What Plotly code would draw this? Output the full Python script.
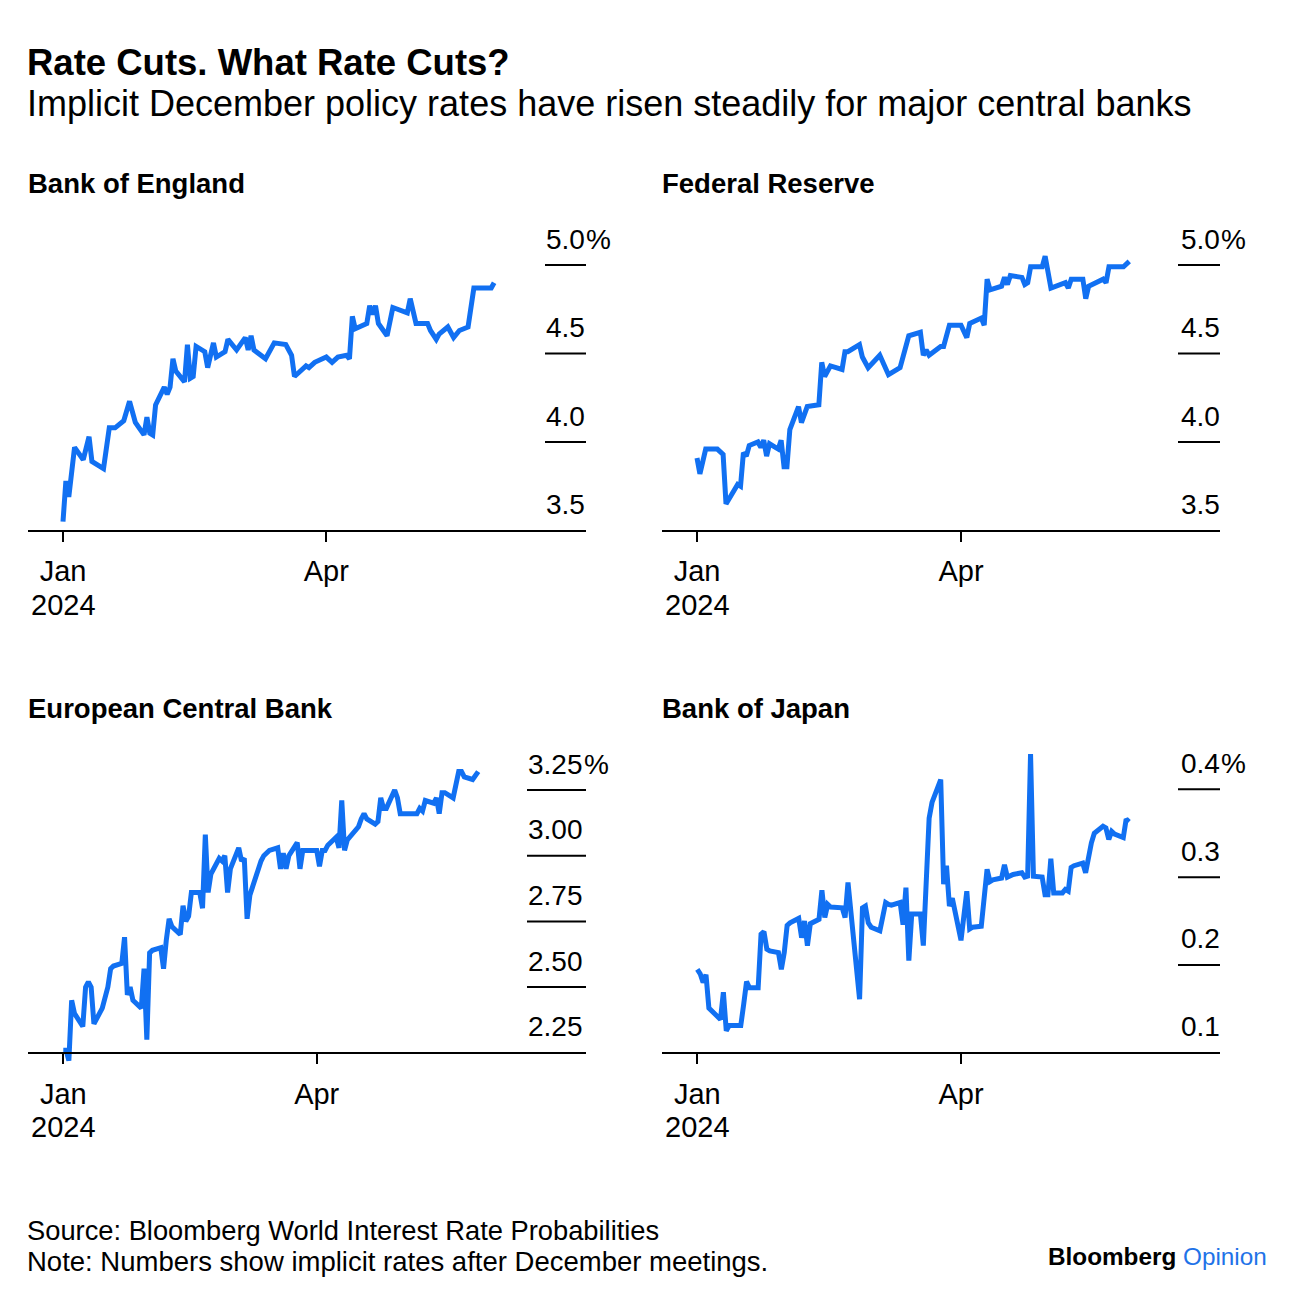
import plotly.graph_objects as go
from datetime import datetime, timedelta

W, H = 1296, 1300
FONT = "Liberation Sans, Arial, Helvetica, sans-serif"
BLUE = "#1170F2"

# ---------------- data ----------------
boe_dates = ["2024-01-01", "2024-01-02", "2024-01-03", "2024-01-05", "2024-01-08", "2024-01-10",
             "2024-01-11", "2024-01-15", "2024-01-17", "2024-01-19", "2024-01-22", "2024-01-24",
             "2024-01-26", "2024-01-29", "2024-01-30", "2024-01-31", "2024-02-01", "2024-02-02",
             "2024-02-05", "2024-02-06", "2024-02-07", "2024-02-08", "2024-02-09", "2024-02-12",
             "2024-02-13", "2024-02-14", "2024-02-15", "2024-02-16", "2024-02-19", "2024-02-20",
             "2024-02-22", "2024-02-23", "2024-02-26", "2024-02-27", "2024-03-01", "2024-03-04",
             "2024-03-05", "2024-03-06", "2024-03-07", "2024-03-11", "2024-03-14", "2024-03-18",
             "2024-03-20", "2024-03-21", "2024-03-25", "2024-03-26", "2024-03-28", "2024-04-01",
             "2024-04-03", "2024-04-05", "2024-04-08", "2024-04-09", "2024-04-10", "2024-04-11",
             "2024-04-15", "2024-04-16", "2024-04-17", "2024-04-18", "2024-04-19", "2024-04-22",
             "2024-04-24", "2024-04-26", "2024-04-29", "2024-04-30", "2024-05-02", "2024-05-06",
             "2024-05-07", "2024-05-09", "2024-05-10", "2024-05-13", "2024-05-15", "2024-05-17",
             "2024-05-20", "2024-05-22", "2024-05-23", "2024-05-28", "2024-05-29"]
boe_values = [3.55, 3.78, 3.69, 3.97, 3.90, 4.03, 3.89, 3.85, 4.08, 4.08, 4.12, 4.23,
              4.11, 4.04, 4.14, 4.05, 4.04, 4.21, 4.31, 4.27, 4.31, 4.47, 4.40, 4.34,
              4.55, 4.36, 4.37, 4.54, 4.51, 4.42, 4.56, 4.48, 4.51, 4.58, 4.52, 4.59,
              4.52, 4.60, 4.52, 4.47, 4.56, 4.55, 4.49, 4.37, 4.43, 4.42, 4.45, 4.48,
              4.45, 4.48, 4.49, 4.47, 4.71, 4.64, 4.67, 4.77, 4.72, 4.77, 4.67, 4.60,
              4.76, 4.75, 4.73, 4.81, 4.67, 4.67, 4.63, 4.58, 4.61, 4.65, 4.59, 4.63,
              4.65, 4.87, 4.87, 4.87, 4.90]

fed_dates = ["2024-01-01", "2024-01-02", "2024-01-04", "2024-01-08", "2024-01-10", "2024-01-11",
             "2024-01-15", "2024-01-16", "2024-01-17", "2024-01-18", "2024-01-19", "2024-01-22",
             "2024-01-23", "2024-01-24", "2024-01-25", "2024-01-26", "2024-01-29", "2024-01-30",
             "2024-01-31", "2024-02-01", "2024-02-02", "2024-02-05", "2024-02-06", "2024-02-08",
             "2024-02-12", "2024-02-13", "2024-02-14", "2024-02-16", "2024-02-20", "2024-02-21",
             "2024-02-22", "2024-02-26", "2024-02-27", "2024-02-29", "2024-03-04", "2024-03-05",
             "2024-03-07", "2024-03-11", "2024-03-14", "2024-03-18", "2024-03-19", "2024-03-20",
             "2024-03-21", "2024-03-25", "2024-03-26", "2024-03-28", "2024-04-01", "2024-04-03",
             "2024-04-04", "2024-04-08", "2024-04-09", "2024-04-10", "2024-04-11", "2024-04-15",
             "2024-04-16", "2024-04-17", "2024-04-18", "2024-04-22", "2024-04-23", "2024-04-24",
             "2024-04-25", "2024-04-29", "2024-04-30", "2024-05-02", "2024-05-07", "2024-05-08",
             "2024-05-09", "2024-05-13", "2024-05-14", "2024-05-15", "2024-05-20", "2024-05-21",
             "2024-05-22", "2024-05-27", "2024-05-28", "2024-05-29"]
fed_values = [3.91, 3.82, 3.96, 3.96, 3.93, 3.65, 3.76, 3.75, 3.94, 3.92, 3.98, 4.00,
              3.97, 4.01, 3.92, 3.99, 3.96, 4.01, 3.86, 3.86, 4.07, 4.20, 4.11, 4.20,
              4.21, 4.45, 4.37, 4.43, 4.41, 4.51, 4.51, 4.55, 4.48, 4.42, 4.49, 4.45,
              4.38, 4.42, 4.60, 4.62, 4.49, 4.52, 4.49, 4.54, 4.54, 4.66, 4.66, 4.59,
              4.67, 4.70, 4.66, 4.92, 4.86, 4.88, 4.93, 4.89, 4.94, 4.93, 4.89, 4.90,
              4.99, 4.99, 5.05, 4.87, 4.90, 4.87, 4.92, 4.92, 4.81, 4.88, 4.92, 4.90,
              4.99, 4.99, 5.01, 5.02]

ecb_dates = ["2024-01-01", "2024-01-02", "2024-01-03", "2024-01-04", "2024-01-05", "2024-01-08",
             "2024-01-09", "2024-01-10", "2024-01-11", "2024-01-12", "2024-01-15", "2024-01-16",
             "2024-01-17", "2024-01-18", "2024-01-19", "2024-01-22", "2024-01-23", "2024-01-24",
             "2024-01-25", "2024-01-26", "2024-01-29", "2024-01-30", "2024-01-31", "2024-02-01",
             "2024-02-02", "2024-02-05", "2024-02-06", "2024-02-07", "2024-02-08", "2024-02-09",
             "2024-02-12", "2024-02-13", "2024-02-14", "2024-02-15", "2024-02-16", "2024-02-19",
             "2024-02-20", "2024-02-21", "2024-02-22", "2024-02-23", "2024-02-26", "2024-02-27",
             "2024-02-28", "2024-02-29", "2024-03-01", "2024-03-04", "2024-03-05", "2024-03-06",
             "2024-03-07", "2024-03-08", "2024-03-11", "2024-03-12", "2024-03-13", "2024-03-14",
             "2024-03-15", "2024-03-18", "2024-03-19", "2024-03-20", "2024-03-21", "2024-03-22",
             "2024-03-25", "2024-03-26", "2024-03-27", "2024-03-28", "2024-03-29", "2024-04-01",
             "2024-04-02", "2024-04-03", "2024-04-04", "2024-04-05", "2024-04-08", "2024-04-09",
             "2024-04-10", "2024-04-11", "2024-04-12", "2024-04-15", "2024-04-16", "2024-04-17",
             "2024-04-18", "2024-04-19", "2024-04-22", "2024-04-23", "2024-04-24", "2024-04-25",
             "2024-04-26", "2024-04-29", "2024-04-30", "2024-05-01", "2024-05-02", "2024-05-03",
             "2024-05-06", "2024-05-07", "2024-05-08", "2024-05-09", "2024-05-10", "2024-05-13",
             "2024-05-14", "2024-05-15", "2024-05-16", "2024-05-17", "2024-05-20", "2024-05-21",
             "2024-05-22", "2024-05-23", "2024-05-24", "2024-05-27", "2024-05-28", "2024-05-29"]
ecb_values = [2.26, 2.26, 2.22, 2.45, 2.40, 2.35, 2.50, 2.52, 2.50, 2.36, 2.42, 2.46,
              2.50, 2.57, 2.58, 2.59, 2.69, 2.47, 2.50, 2.45, 2.42, 2.57, 2.30, 2.63,
              2.64, 2.65, 2.57, 2.68, 2.76, 2.73, 2.70, 2.81, 2.75, 2.77, 2.86, 2.86,
              2.80, 3.08, 2.86, 2.93, 2.99, 2.98, 3.00, 2.86, 2.95, 3.03, 2.98, 2.99,
              2.76, 2.85, 2.95, 2.98, 3.00, 3.01, 3.02, 3.03, 2.95, 3.01, 2.95, 3.00,
              3.05, 2.95, 3.02, 3.02, 3.02, 3.02, 2.96, 3.02, 3.02, 3.04, 3.07, 3.03,
              3.21, 3.02, 3.06, 3.10, 3.11, 3.14, 3.16, 3.14, 3.12, 3.13, 3.22, 3.18,
              3.18, 3.25, 3.22, 3.16, 3.16, 3.16, 3.16, 3.16, 3.18, 3.17, 3.21, 3.20,
              3.22, 3.16, 3.24, 3.24, 3.22, 3.27, 3.32, 3.32, 3.30, 3.29, 3.31, 3.32]

boj_dates = ["2024-01-01", "2024-01-02", "2024-01-03", "2024-01-04", "2024-01-05", "2024-01-08",
             "2024-01-09", "2024-01-10", "2024-01-11", "2024-01-12", "2024-01-15", "2024-01-16",
             "2024-01-17", "2024-01-18", "2024-01-19", "2024-01-22", "2024-01-23", "2024-01-24",
             "2024-01-25", "2024-01-26", "2024-01-29", "2024-01-30", "2024-01-31", "2024-02-01",
             "2024-02-02", "2024-02-05", "2024-02-06", "2024-02-07", "2024-02-08", "2024-02-09",
             "2024-02-12", "2024-02-13", "2024-02-14", "2024-02-15", "2024-02-16", "2024-02-19",
             "2024-02-20", "2024-02-21", "2024-02-22", "2024-02-26", "2024-02-27", "2024-02-28",
             "2024-02-29", "2024-03-01", "2024-03-04", "2024-03-05", "2024-03-06", "2024-03-07",
             "2024-03-08", "2024-03-11", "2024-03-12", "2024-03-13", "2024-03-14", "2024-03-15",
             "2024-03-18", "2024-03-19", "2024-03-21", "2024-03-22", "2024-03-25", "2024-03-26",
             "2024-03-27", "2024-03-28", "2024-03-29", "2024-04-01", "2024-04-03", "2024-04-04",
             "2024-04-05", "2024-04-08", "2024-04-09", "2024-04-10", "2024-04-11", "2024-04-12",
             "2024-04-15", "2024-04-16", "2024-04-17", "2024-04-18", "2024-04-19", "2024-04-22",
             "2024-04-23", "2024-04-24", "2024-04-25", "2024-04-26", "2024-04-29", "2024-04-30",
             "2024-05-01", "2024-05-02", "2024-05-03", "2024-05-06", "2024-05-07", "2024-05-08",
             "2024-05-09", "2024-05-10", "2024-05-13", "2024-05-14", "2024-05-15", "2024-05-16",
             "2024-05-17", "2024-05-20", "2024-05-21", "2024-05-22", "2024-05-23", "2024-05-24",
             "2024-05-27", "2024-05-28", "2024-05-29"]
boj_values = [0.195, 0.190, 0.180, 0.189, 0.151, 0.142, 0.138, 0.169, 0.125, 0.131, 0.131, 0.131,
              0.155, 0.181, 0.174, 0.174, 0.235, 0.238, 0.218, 0.216, 0.214, 0.195, 0.214, 0.245,
              0.248, 0.253, 0.231, 0.250, 0.222, 0.247, 0.252, 0.285, 0.254, 0.269, 0.266, 0.265,
              0.265, 0.254, 0.294, 0.161, 0.265, 0.267, 0.248, 0.243, 0.239, 0.255, 0.271, 0.269,
              0.268, 0.271, 0.246, 0.288, 0.205, 0.258, 0.258, 0.222, 0.367, 0.385, 0.411, 0.292,
              0.313, 0.267, 0.276, 0.228, 0.284, 0.241, 0.243, 0.244, 0.275, 0.309, 0.295, 0.297,
              0.299, 0.314, 0.300, 0.302, 0.303, 0.305, 0.300, 0.301, 0.440, 0.301, 0.300, 0.280,
              0.280, 0.321, 0.282, 0.282, 0.286, 0.284, 0.311, 0.313, 0.316, 0.305, 0.324, 0.339,
              0.350, 0.358, 0.356, 0.343, 0.352, 0.349, 0.345, 0.366, 0.363]

boe_ticks = [3.5, 4.0, 4.5, 5.0]
boe_tick_labels = ["3.5", "4.0", "4.5", "5.0"]
fed_ticks = [3.5, 4.0, 4.5, 5.0]
fed_tick_labels = ["3.5", "4.0", "4.5", "5.0"]
ecb_ticks = [2.25, 2.50, 2.75, 3.00, 3.25]
ecb_tick_labels = ["2.25", "2.50", "2.75", "3.00", "3.25"]
boj_ticks = [0.1, 0.2, 0.3, 0.4]
boj_tick_labels = ["0.1", "0.2", "0.3", "0.4"]

x_tick_dates = ["2024-01-01", "2024-04-01"]
x_tick_text = ["Jan", "Apr"]
x_year_label = "2024"

titles = ["Bank of England", "Federal Reserve", "European Central Bank", "Bank of Japan"]

# ---------------- layout geometry (pixels) ----------------
panels = [
    dict(title=titles[0], dates=boe_dates, values=boe_values, ticks=boe_ticks, labels=boe_tick_labels,
         xl=28, xr=586, jan=63.0, apr=326.3, base=530.5, top_val=5.0, top_pix=265.0,
         dom=(225, 545), seg=545, lab=587, tx=26, ty=184),
    dict(title=titles[1], dates=fed_dates, values=fed_values, ticks=fed_ticks, labels=fed_tick_labels,
         xl=662, xr=1220, jan=697.0, apr=961.0, base=530.5, top_val=5.0, top_pix=265.0,
         dom=(225, 545), seg=1178, lab=1222, tx=660, ty=184),
    dict(title=titles[2], dates=ecb_dates, values=ecb_values, ticks=ecb_ticks, labels=ecb_tick_labels,
         xl=28, xr=586, jan=63.3, apr=316.7, base=1052.8, top_val=3.25, top_pix=790.0,
         dom=(740, 1066), seg=527, lab=585, tx=26, ty=708),
    dict(title=titles[3], dates=boj_dates, values=boj_values, ticks=boj_ticks, labels=boj_tick_labels,
         xl=662, xr=1220, jan=697.3, apr=961.0, base=1052.8, top_val=0.4, top_pix=789.3,
         dom=(740, 1066), seg=1178, lab=1222, tx=660, ty=708),
]

fig = go.Figure()
annotations = []
shapes = []
jan1 = datetime(2024, 1, 1)

for i, p in enumerate(panels, start=1):
    sfx = "" if i == 1 else str(i)
    base_val = p["ticks"][0]
    ppu = (p["base"] - p["top_pix"]) / (p["top_val"] - base_val)
    y0 = base_val - (p["dom"][1] - p["base"]) / ppu
    y1 = base_val + (p["base"] - p["dom"][0]) / ppu
    ppd = (p["apr"] - p["jan"]) / 91.0
    d0 = jan1 + timedelta(days=(p["xl"] - p["jan"]) / ppd)
    d1 = jan1 + timedelta(days=(p["xr"] - p["jan"]) / ppd)

    fig.add_trace(go.Scatter(x=p["dates"], y=p["values"], mode="lines",
                             line=dict(color=BLUE, width=5),
                             xaxis="x" + sfx, yaxis="y" + sfx, showlegend=False,
                             hoverinfo="skip"))

    fig.layout["xaxis" + sfx] = dict(
        domain=[p["xl"] / W, p["xr"] / W], anchor="free", position=1 - p["base"] / H,
        type="date", range=[d0.strftime("%Y-%m-%d %H:%M:%S"), d1.strftime("%Y-%m-%d %H:%M:%S")],
        tickmode="array", tickvals=x_tick_dates, ticktext=x_tick_text,
        ticks="outside", ticklen=10, tickwidth=2, tickcolor="#000",
        showline=True, linecolor="#000", linewidth=2,
        showgrid=False, zeroline=False, fixedrange=True,
        tickfont=dict(family=FONT, size=29, color="#000"), ticklabelstandoff=5,
    )
    fig.layout["yaxis" + sfx] = dict(
        domain=[1 - p["dom"][1] / H, 1 - p["dom"][0] / H], anchor="x" + sfx,
        range=[y0, y1], showticklabels=False, showgrid=False, zeroline=False,
        showline=False, ticks="", fixedrange=True,
    )

    # year label under the January tick
    annotations.append(dict(xref="x" + sfx, yref="paper", x=x_tick_dates[0],
                            y=1 - (p["base"] + 74.5) / H, xanchor="center", yanchor="middle",
                            text=x_year_label, showarrow=False,
                            font=dict(family=FONT, size=29, color="#000")))

    # right-hand value markers and labels
    for j, (v, lab) in enumerate(zip(p["ticks"], p["labels"])):
        if j > 0:
            shapes.append(dict(type="line", xref="paper", yref="y" + sfx,
                               x0=p["seg"] / W, x1=p["xr"] / W, y0=v, y1=v,
                               line=dict(color="#000", width=2)))
        annotations.append(dict(xref="paper", yref="y" + sfx, x=p["lab"] / W, y=v,
                                xanchor="right", yanchor="middle", yshift=26,
                                text=lab, showarrow=False,
                                font=dict(family=FONT, size=28, color="#000")))
        if j == len(p["ticks"]) - 1:
            annotations.append(dict(xref="paper", yref="y" + sfx, x=p["lab"] / W, y=v,
                                    xanchor="left", yanchor="middle", yshift=26, xshift=-3,
                                    text="%", showarrow=False,
                                    font=dict(family=FONT, size=28, color="#000")))

    annotations.append(dict(xref="paper", yref="paper", x=p["tx"] / W, y=1 - p["ty"] / H,
                            xanchor="left", yanchor="middle", text="<b>" + p["title"] + "</b>",
                            showarrow=False, font=dict(family=FONT, size=27.5, color="#000")))

# headline, subtitle, footer
annotations += [
    dict(xref="paper", yref="paper", x=25 / W, y=1 - 62 / H, xanchor="left", yanchor="middle",
         text="<b>Rate Cuts. What Rate Cuts?</b>", showarrow=False,
         font=dict(family=FONT, size=36.5, color="#000")),
    dict(xref="paper", yref="paper", x=25 / W, y=1 - 104 / H, xanchor="left", yanchor="middle",
         text="Implicit December policy rates have risen steadily for major central banks",
         showarrow=False, font=dict(family=FONT, size=36, color="#000")),
    dict(xref="paper", yref="paper", x=25 / W, y=1 - 1230 / H, xanchor="left", yanchor="middle",
         text="Source: Bloomberg World Interest Rate Probabilities", showarrow=False,
         font=dict(family=FONT, size=27.3, color="#000")),
    dict(xref="paper", yref="paper", x=25 / W, y=1 - 1261 / H, xanchor="left", yanchor="middle",
         text="Note: Numbers show implicit rates after December meetings.", showarrow=False,
         font=dict(family=FONT, size=27.5, color="#000")),
    dict(xref="paper", yref="paper", x=1269 / W, y=1 - 1256 / H, xanchor="right", yanchor="middle",
         text="<b>Bloomberg</b> <span style='color:#1F73E8'>Opinion</span>", showarrow=False,
         font=dict(family=FONT, size=24.3, color="#000")),
]

fig.update_layout(
    width=W, height=H, autosize=False,
    margin=dict(l=0, r=0, t=0, b=0, pad=0),
    paper_bgcolor="white", plot_bgcolor="white",
    font=dict(family=FONT, color="#000"),
    annotations=annotations, shapes=shapes,
    showlegend=False,
)

fig.write_html("out.html", config={"displayModeBar": False})
